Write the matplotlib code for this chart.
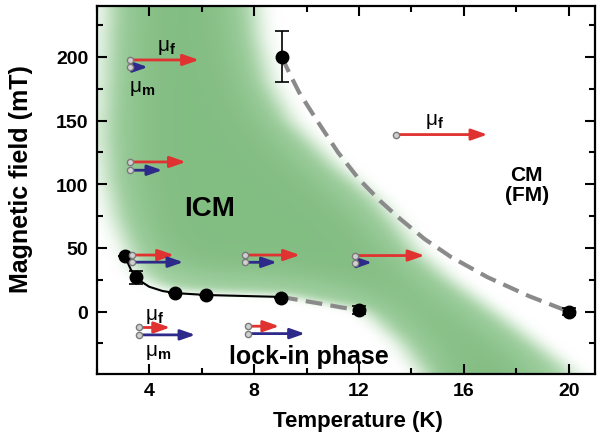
import matplotlib
matplotlib.use('Agg')
import matplotlib.pyplot as plt
import numpy as np
from matplotlib.path import Path

plt.rcParams['font.family'] = ['Liberation Sans', 'DejaVu Sans']
plt.rcParams['font.weight'] = 'bold'
plt.rcParams['mathtext.fontset'] = 'custom'
plt.rcParams['mathtext.rm'] = 'Liberation Sans'
plt.rcParams['mathtext.bf'] = 'Liberation Sans:bold'

# measured transition points
temp_pts = [3.07, 3.49, 5.0, 6.17, 9.03, 12.0, 20.0, 9.05]
field_pts = [43.4, 27.0, 14.7, 12.8, 11.0, 1.0, 0.0, 200.0]
field_err = [0, 5, 0, 0, 0, 3, 3, 20]

# solid black boundary (ICM / lock-in)
lock_t = [3.07, 3.3, 3.55, 4.0, 4.5, 5.0, 6.2, 7.5, 9.03]
lock_h = [43.4, 33.0, 25.5, 19.5, 16.2, 14.5, 13.0, 12.3, 11.5]
# dashed lines
dash1_t = [9.03, 9.8, 10.6, 11.3, 12.0]
dash1_h = [11.5, 8.8, 6.0, 3.4, 1.0]
dash2_t = [9.05, 9.4, 9.72, 10.4, 11.2, 12.0, 12.8, 13.5, 14.5, 15.5, 16.9, 18.5, 20.0]
dash2_h = [200, 185, 172, 150, 125, 104, 87, 74, 57, 43, 27, 12, 0]

# green ICM region outline
icm_t = [2.4, 8.0, 8.2, 8.6, 9.4, 11.1, 12.7, 13.5, 14.2, 15.5, 17.5, 20.0, 20.6,
         14.8, 13.5, 12.4, 12.0, 10.5, 9.03, 7.5, 6.2, 5.0, 4.3, 3.7, 3.35, 3.15,
         2.9, 2.6, 2.3, 2.2]
icm_h = [255, 255, 215, 180, 150, 115, 88, 68, 48, 25, -5, -45, -60,
         -60, -25, -4, 2, 7, 13, 14, 15, 16.5, 20, 27, 36, 46,
         58, 75, 105, 140]

# arrows: tail T, field, head T
red_t0 = [3.27, 3.27, 3.35, 7.65, 11.85, 3.62, 7.78, 13.4]
red_h = [197.6, 117.5, 44.4, 44.4, 44.0, -12.5, -11.5, 139]
red_t1 = [5.9, 5.4, 4.95, 9.75, 14.5, 4.8, 8.96, 16.9]
blue_t0 = [3.27, 3.27, 3.35, 7.65, 11.85, 3.62, 7.78]
blue_h = [192, 111, 38.8, 38.7, 38.5, -18.3, -17.3]
blue_t1 = [3.95, 4.5, 5.3, 8.87, 12.5, 5.76, 9.94]

mu_labels = ['μ$_\\mathbf{f}$', 'μ$_\\mathbf{m}$', 'μ$_\\mathbf{f}$', 'μ$_\\mathbf{m}$', 'μ$_\\mathbf{f}$']
mu_t = [4.65, 3.75, 4.2, 4.35, 14.9]
mu_h = [208, 176, -3, -31, 150]

xlo, xhi, ylo, yhi = 2, 21, -49, 240

fig = plt.figure(figsize=(6.01, 4.35), dpi=100)
ax = fig.add_axes([0.161, 0.138, 0.829, 0.846])

# soft green shading from the outline
nx, ny = 500, 370
gx = np.linspace(xlo, xhi, nx)
gy = np.linspace(ylo, yhi, ny)
XX, YY = np.meshgrid(gx, gy)
poly = Path(np.column_stack([icm_t, icm_h]))
mask = poly.contains_points(np.column_stack([XX.ravel(), YY.ravel()])).reshape(ny, nx).astype(float)


def box_blur(a, w, axis):
    pad = w // 2
    a = np.pad(a, [(pad, pad) if i == axis else (0, 0) for i in range(2)], mode='edge')
    c = np.cumsum(a, axis=axis)
    c = np.insert(c, 0, 0, axis=axis)
    n = a.shape[axis] - w + 1
    hi = np.take(c, np.arange(w, w + n), axis=axis)
    lo = np.take(c, np.arange(0, n), axis=axis)
    return (hi - lo) / w


soft = mask
for _ in range(3):
    soft = box_blur(soft, 21, 1)
    soft = box_blur(soft, 7, 0)
core = mask
for _ in range(3):
    core = box_blur(core, 61, 1)
    core = box_blur(core, 41, 0)

light = np.array([0.72, 0.87, 0.72])
dark = np.array([0.47, 0.72, 0.47])
rgba = np.zeros((ny, nx, 4))
mix = np.clip(core, 0, 1)[..., None] ** 1.5
rgba[..., :3] = light * (1 - mix) + dark * mix
rgba[..., 3] = np.clip(soft, 0, 1) * 0.92
ax.imshow(rgba, extent=[xlo, xhi, ylo, yhi], origin='lower', aspect='auto',
          interpolation='bilinear', zorder=0)

# boundaries
ax.plot(lock_t, lock_h, color='black', lw=1.5, zorder=3)
ax.plot(dash1_t, dash1_h, color='#8a8a8a', lw=3, dashes=(4, 2), zorder=3)
ax.plot(dash2_t, dash2_h, color='#8a8a8a', lw=3, dashes=(4, 2), zorder=3)
ax.errorbar(temp_pts, field_pts, yerr=field_err, fmt='o', color='black', ms=9,
            capsize=5, elinewidth=1.2, capthick=1.2, zorder=4)

# moment arrows
for t0, h, t1 in zip(red_t0, red_h, red_t1):
    ax.annotate('', xy=(t1, h), xytext=(t0, h),
                arrowprops=dict(arrowstyle='-|>,head_length=0.8,head_width=0.28',
                                color='#e03230', lw=2, mutation_scale=12,
                                shrinkA=0, shrinkB=0), zorder=5)
    ax.plot(t0, h, 'o', ms=4.5, mfc='#d0d0d0', mec='#7a7a7a', mew=1, zorder=6)
for t0, h, t1 in zip(blue_t0, blue_h, blue_t1):
    ax.annotate('', xy=(t1, h), xytext=(t0, h),
                arrowprops=dict(arrowstyle='-|>,head_length=0.8,head_width=0.28',
                                color='#2e2a8a', lw=2, mutation_scale=11,
                                shrinkA=0, shrinkB=0), zorder=5)
    ax.plot(t0, h, 'o', ms=4.5, mfc='#d0d0d0', mec='#7a7a7a', mew=1, zorder=6)
for s, t, h in zip(mu_labels, mu_t, mu_h):
    ax.text(t, h, s, fontsize=15, fontweight='normal', ha='center', va='center', zorder=6)

# phase labels
ax.text(6.3, 81, 'ICM', fontsize=20, fontweight='bold', ha='center', va='center')
ax.text(18.4, 100, 'CM\n(FM)', fontsize=15, fontweight='bold', ha='center', va='center',
        linespacing=1.05)
ax.text(10.1, -35, 'lock-in phase', fontsize=18, fontweight='bold', ha='center', va='center')

ax.set_xlim(xlo, xhi)
ax.set_ylim(ylo, yhi)
ax.set_xticks([4, 8, 12, 16, 20])
ax.set_xticks([2, 6, 10, 14, 18], minor=True)
ax.set_yticks([0, 50, 100, 150, 200])
ax.set_yticks([-25, 25, 75, 125, 175, 225], minor=True)
ax.tick_params(which='both', direction='in', top=True, right=True, width=1.5,
               labelsize=14)
ax.tick_params(which='major', length=7, pad=6)
ax.tick_params(which='minor', length=4)
for sp in ax.spines.values():
    sp.set_linewidth(1.6)
ax.set_xlabel('Temperature (K)', fontsize=16, fontweight='bold')
ax.set_ylabel('Magnetic field (mT)', fontsize=18, fontweight='bold')
ax.xaxis.set_label_coords(0.524, -0.098)
ax.yaxis.set_label_coords(-0.128, 0.533)

fig.savefig('out.png', dpi=100)
